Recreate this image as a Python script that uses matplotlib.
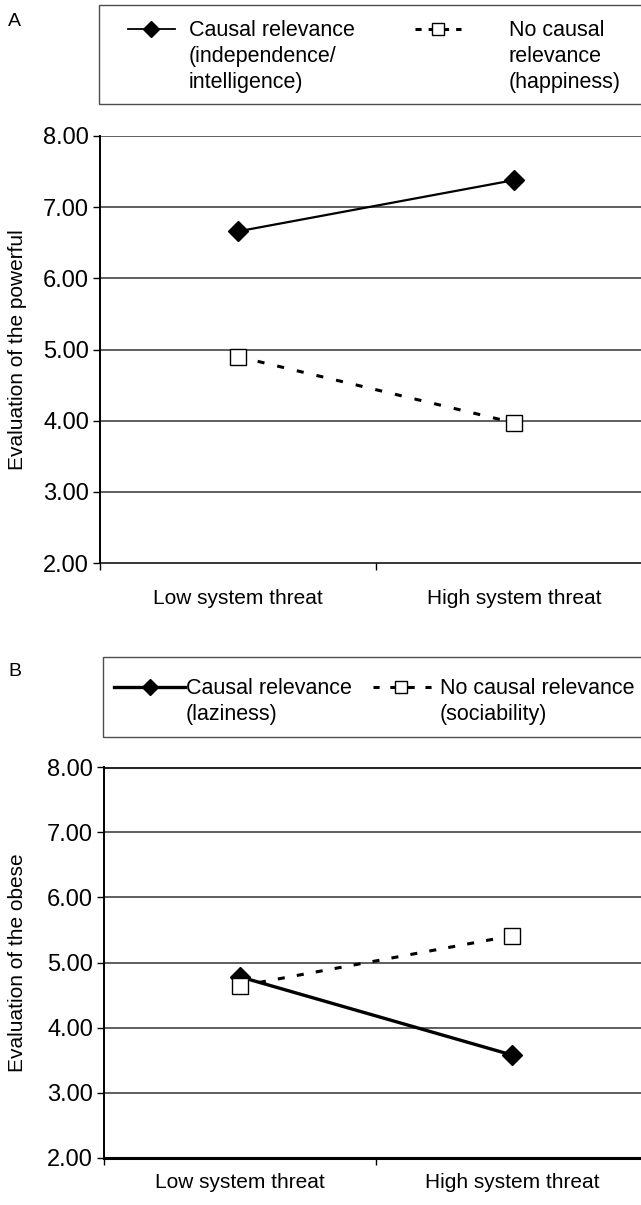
import matplotlib
matplotlib.use("Agg")
import matplotlib.pyplot as plt
from matplotlib.lines import Line2D
from matplotlib.patches import Rectangle

plt.rcParams["font.family"] = ["Liberation Sans", "DejaVu Sans"]

# -- Data ---------------------------------------------------------------------
conditions = ["Low system threat", "High system threat"]
powerful_causal = [6.66, 7.38]      # independence / intelligence
powerful_noncausal = [4.90, 3.97]   # happiness
obese_causal = [4.78, 3.58]         # laziness
obese_noncausal = [4.64, 5.41]      # sociability
y_ticks = [2, 3, 4, 5, 6, 7, 8]

W, H = 641, 1205
DPI = 100


def fx(x):
    return x / W


def fy(y):
    return 1 - y / H


fig = plt.figure(figsize=(W / DPI, H / DPI), dpi=DPI)


def setup_axes(ax, ylabel, label_x, xpad, spine_lw):
    ax.set_xlim(-0.5, 1.5)
    ax.set_ylim(2, 8)
    ax.set_yticks(y_ticks)
    ax.set_yticklabels([f"{v:.2f}" for v in y_ticks], fontsize=17)
    ax.tick_params(axis="y", direction="out", length=5, width=1, pad=3)
    ax.set_xticks([0, 1])
    ax.set_xticklabels(conditions, fontsize=15)
    ax.tick_params(axis="x", which="major", length=0, pad=xpad)
    ax.set_xticks([-0.5, 0.5, 1.5], minor=True)
    ax.tick_params(axis="x", which="minor", direction="out", length=5, width=1)
    for v in y_ticks[1:]:
        ax.axhline(v, color="0.2", lw=1.1, zorder=1)
    ax.spines["right"].set_visible(False)
    ax.spines["top"].set_visible(False)
    ax.spines["left"].set_linewidth(1.4)
    ax.spines["bottom"].set_linewidth(spine_lw)
    ax.set_ylabel(ylabel, fontsize=15)
    ax.yaxis.set_label_coords(label_x, 0.5)


def legend_line(x0, x1, y, lw, dashes=None):
    kw = dict(color="black", lw=lw, transform=fig.transFigure)
    if dashes is not None:
        kw["dashes"] = dashes
    fig.add_artist(Line2D([fx(x0), fx(x1)], [fy(y), fy(y)], **kw))


def legend_marker(x, y, marker, ms, face):
    fig.add_artist(Line2D([fx(x)], [fy(y)], marker=marker, ms=ms, mfc=face,
                          mec="black", mew=1.0, color="black",
                          transform=fig.transFigure))


# -- Panel A ------------------------------------------------------------------
axA = fig.add_axes([fx(100), fy(563), (652 - 100) / W, (563 - 136) / H])
setup_axes(axA, "Evaluation of the powerful", (27 - 100) / 552, 19, 1.1)
axA.plot([0, 1], powerful_causal, color="black", lw=1.6, marker="D",
         ms=10, zorder=3)
axA.plot([0, 1], powerful_noncausal, color="black", lw=2.2,
         dashes=(2.3, 4.3), marker="s", ms=12, mfc="white", mec="black",
         mew=1.0, zorder=4)

# -- Panel B ------------------------------------------------------------------
axB = fig.add_axes([fx(104), fy(1158), (648 - 104) / W, (1158 - 767) / H])
setup_axes(axB, "Evaluation of the obese", (27 - 104) / 544, 11, 2.2)
axB.axhline(8, color="0.15", lw=2.2, zorder=1)
axB.plot([0, 1], obese_causal, color="black", lw=2.4, marker="D",
         ms=10, zorder=3)
axB.plot([0, 1], obese_noncausal, color="black", lw=2.2,
         dashes=(2.3, 4.0), marker="s", ms=11, mfc="white", mec="black",
         mew=1.0, zorder=4)

# -- Panel letters ------------------------------------------------------------
fig.text(fx(8), fy(21), "A", fontsize=14, va="center", ha="left")
fig.text(fx(8), fy(672), "B", fontsize=14, va="center", ha="left")

# -- Legend A -----------------------------------------------------------------
fig.add_artist(Rectangle((fx(99), fy(104)), (660 - 99) / W, 99 / H,
                         transform=fig.transFigure, fill=False,
                         edgecolor="0.3", lw=1.0))
legend_line(128, 175, 29, 1.3)
legend_marker(151, 29, "D", 8, "black")
fig.text(fx(189), fy(20), "Causal relevance\n(independence/\nintelligence)",
         fontsize=15.5, va="top", ha="left", linespacing=1.32)
legend_line(415, 461, 29, 2.2, dashes=(2, 2.3, 6.7, 2.3, 2, 20))
legend_marker(438, 29, "s", 8, "white")
fig.text(fx(509), fy(20), "No causal\nrelevance\n(happiness)", fontsize=15.5,
         va="top", ha="left", linespacing=1.32)

# -- Legend B -----------------------------------------------------------------
fig.add_artist(Rectangle((fx(103), fy(737)), (660 - 103) / W, 80 / H,
                         transform=fig.transFigure, fill=False,
                         edgecolor="0.3", lw=1.0))
legend_line(114, 185, 687, 2.4)
legend_marker(150, 687, "D", 8, "black")
fig.text(fx(186), fy(678), "Causal relevance\n(laziness)", fontsize=15.5,
         va="top", ha="left", linespacing=1.32)
legend_line(373, 434, 687, 2.2, dashes=(2, 3.5, 8, 3.5, 2, 20))
legend_marker(401, 687, "s", 8, "white")
fig.text(fx(440), fy(678), "No causal relevance\n(sociability)", fontsize=15.5,
         va="top", ha="left", linespacing=1.32)

fig.savefig("out.png", dpi=DPI)
